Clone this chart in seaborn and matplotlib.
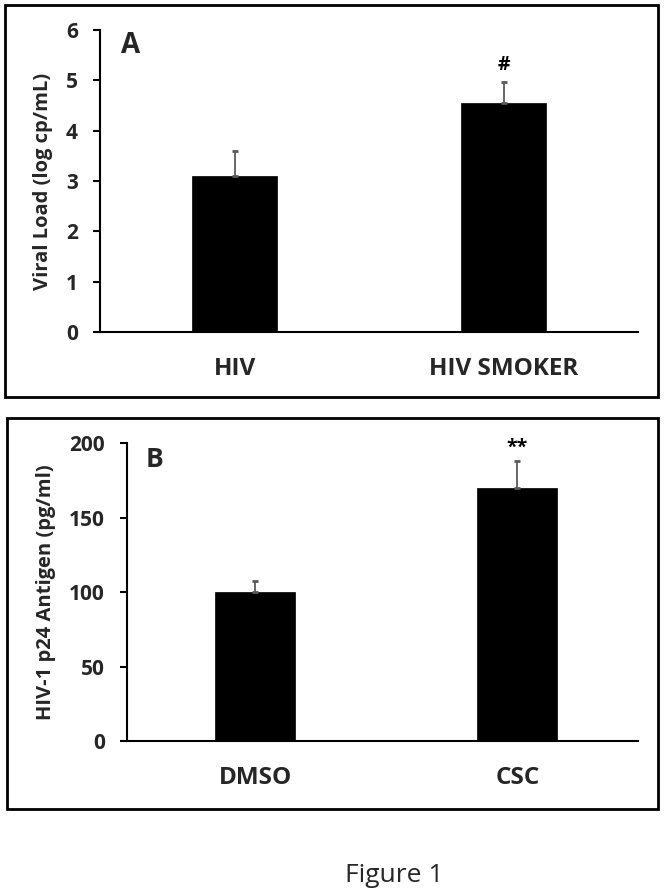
import numpy as np
import pandas as pd
import seaborn as sns
import matplotlib
matplotlib.use("agg")
import matplotlib.pyplot as plt
from matplotlib.patches import Rectangle

# panel A data
groups_a = ['HIV', 'HIV SMOKER']
viral_load = [3.09, 4.54]
viral_err = [0.51, 0.43]
marks_a = ['', '#']
mark_y_a = [0, 5.3]

# panel B data
groups_b = ['DMSO', 'CSC']
p24 = [100, 170]
p24_err = [7.5, 18]
marks_b = ['', '**']
mark_y_b = [0, 197]

sns.set_style("ticks")
plt.rcParams['font.family'] = ['Open Sans', 'DejaVu Sans']
plt.rcParams['font.weight'] = 'bold'

fig = plt.figure(figsize=(6.66, 8.96), dpi=100)
W, H = 666, 896


def fx(px):
    return px / W


def fy(py):
    return 1 - py / H


def panel(ax, cats, vals, errs, marks, mark_y, ylim, yticks, ylabel, xlim, width):
    df = pd.DataFrame({'group': cats, 'value': vals})
    sns.barplot(data=df, x='group', y='value', color='black', width=width,
                edgecolor='black', linewidth=0.5, saturation=1, ax=ax)
    ax.errorbar(np.arange(len(cats)), vals, yerr=[np.zeros(len(errs)), errs],
                fmt='none', ecolor='#5a5a5a', elinewidth=1.3, capsize=2.5,
                capthick=2, zorder=1)
    for i, (m, y) in enumerate(zip(marks, mark_y)):
        if m:
            ax.text(i, y, m, ha='center', va='center', fontsize=14,
                    fontweight='bold', color='black')
    ax.set_ylim(*ylim)
    ax.set_yticks(yticks)
    ax.set_xlim(*xlim)
    ax.set_xlabel('')
    ax.set_ylabel(ylabel, fontsize=14.5, fontweight='bold', labelpad=9)
    sns.despine(ax=ax)
    for s in ['left', 'bottom']:
        ax.spines[s].set_linewidth(1.5)
        ax.spines[s].set_color('black')
    ax.tick_params(axis='y', length=5, width=1.5, pad=11, labelsize=15, color='black')
    ax.tick_params(axis='x', length=0, pad=18, labelsize=17.5)
    for lab in ax.get_xticklabels() + ax.get_yticklabels():
        lab.set_fontweight('bold')


ax1 = fig.add_axes([fx(100), fy(332), fx(538), 302 / H])
panel(ax1, groups_a, viral_load, viral_err, marks_a, mark_y_a, (0, 6),
      range(0, 7), 'Viral Load (log cp/mL)', (-0.5, 1.5), 0.315)

ax2 = fig.add_axes([fx(127), fy(741), fx(511), 298 / H])
panel(ax2, groups_b, p24, p24_err, marks_b, mark_y_b, (0, 200),
      range(0, 201, 50), 'HIV-1 p24 Antigen (pg/ml)', (-0.49, 1.46), 0.305)

# panel letters
fig.text(fx(121), fy(53), 'A', fontsize=20, fontweight='bold', va='baseline')
fig.text(fx(146), fy(467), 'B', fontsize=19, fontweight='bold', va='baseline')

# panel borders
fig.patches.append(Rectangle((fx(5), fy(397)), fx(653), 392 / H, transform=fig.transFigure,
                             fill=False, edgecolor='black', linewidth=2))
fig.patches.append(Rectangle((fx(7), fy(809)), fx(651), 391 / H, transform=fig.transFigure,
                             fill=False, edgecolor='black', linewidth=2))

fig.text(fx(394), fy(882), 'Figure 1', fontsize=19, fontweight='normal',
         ha='center', va='baseline')

plt.savefig('out.png', dpi=100)
plt.close()
